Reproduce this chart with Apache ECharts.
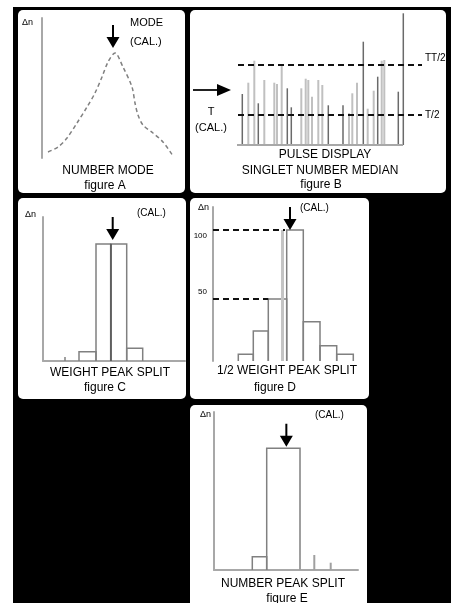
<!DOCTYPE html>
<html><head><meta charset="utf-8">
<script src="https://cdn.jsdelivr.net/npm/echarts@6/dist/echarts.min.js"></script>
<style>html,body{margin:0;padding:0;background:#fff}#c{width:454px;height:603px}</style>
</head><body><div id="c"></div>
<script>
// ---------- DATA ----------
// Figure A: number-mode distribution curve
const modeCurveX = [6, 16, 25, 35, 45, 53, 60, 66, 73, 81, 90, 93, 96, 101, 111, 121, 131];
const modeCurveY = [6, 11, 20, 35, 51, 65, 81, 96, 105, 91, 71, 55, 43, 33, 25, 16, 2];

// Figure B: pulse display (position, pulse height)
const pulseX = [5.3, 11.3, 17.3, 21.3, 27.3, 37.3, 40, 44.7, 50.3, 54.3, 64.3, 68.7, 71.3, 75, 81.3, 85.3, 91.3,
                106, 112, 115.3, 120, 126.3, 130.7, 136.7, 140.7, 144.7, 147.3, 161.3, 166.3];
const pulseH = [51, 62.3, 84.3, 41.7, 65, 62.3, 61, 80, 56.7, 37.7, 56.7, 66.3, 65, 48.3, 65, 60, 39.7,
                39.7, 31.7, 51.7, 62.3, 103.3, 36.3, 54.3, 68.3, 84.3, 85, 53.3, 131.7];
const pulseBaseEnd = 166;
const pulseLevels = [80, 30];
const pulseLevelLabels = ['TT/2', 'T/2'];
const pulseLevelSpan = [1, 185];

// Figure C: weight peak split histogram
const weightBinStart = [36, 53, 67.7, 83.7];
const weightBinEnd = [53, 67.7, 83.7, 99.7];
const weightBinH = [9.3, 117, 117, 12.7];
const weightTickX = [22];
const weightTickH = [4];
const weightSplitX = 67.7;

// Figure D: 1/2 weight peak split histogram
const halfBinStart = [25.3, 40.3, 55.3, 73.7, 90.3, 107, 123.7];
const halfBinEnd = [40.3, 55.3, 73.7, 90.3, 107, 123.7, 140.3];
const halfBinH = [6.7, 30, 62, 131, 39.3, 15.3, 6.7];
const halfLevels = [131, 62];
const halfLevelEnds = [72, 55.3];
const halfTickLabels = ['100', '50'];
const halfSplitX = 69.7;

// Figure E: number peak split histogram
const numBinStart = [38.3, 52.7];
const numBinEnd = [52.7, 86];
const numBinH = [13.3, 121.7];
const numTickX = [86, 100.3, 116.7];
const numTickH = [15, 15, 7.3];

// ---------- RENDERING ----------
const FONT = "'Liberation Sans', Arial, sans-serif";
const AXC = '#a8a8a8';
const chart = echarts.init(document.getElementById('c'), null, {renderer: 'canvas'});

const grids = [
  {left: 42, top: 18, width: 135, height: 140},
  {left: 237, top: 10, width: 190, height: 135},
  {left: 43, top: 217, width: 142, height: 144},
  {left: 213, top: 207, width: 150, height: 154},
  {left: 214, top: 412, width: 144, height: 158}
];
const showX = [false, false, true, false, true];
const showY = [true, false, true, true, true];
const xAxis = grids.map((g, i) => ({
  type: 'value', gridIndex: i, min: 0, max: g.width,
  axisLine: {show: showX[i], onZero: false, lineStyle: {color: AXC, width: 2}},
  axisTick: {show: false}, axisLabel: {show: false}, splitLine: {show: false}
}));
const yAxis = grids.map((g, i) => ({
  type: 'value', gridIndex: i, min: 0, max: g.height,
  axisLine: {show: showY[i], onZero: false, lineStyle: {color: AXC, width: 2}},
  axisTick: {show: false}, axisLabel: {show: false}, splitLine: {show: false}
}));

const arrowPath = 'path://M5.5,0 L7.5,0 L7.5,12 L13,12 L6.5,23 L0,12 L5.5,12 Z';
function arrowMark(coordOrType, offset) {
  const d = Object.assign({}, coordOrType);
  return {
    symbol: arrowPath, symbolSize: [13, 23], symbolOffset: offset,
    itemStyle: {color: '#000'}, label: {show: false}, silent: true,
    data: [d]
  };
}

function binSeries(gi, starts, ends, hs, extra) {
  return Object.assign({
    type: 'custom', xAxisIndex: gi, yAxisIndex: gi, clip: false,
    encode: {x: [0, 1], y: 2},
    data: starts.map((s, i) => [s, ends[i], hs[i]]),
    renderItem: function (params, api) {
      const x0 = api.value(0), x1 = api.value(1), h = api.value(2);
      return {
        type: 'polyline',
        shape: {points: [api.coord([x0, 0]), api.coord([x0, h]), api.coord([x1, h]), api.coord([x1, 0])]},
        style: {stroke: '#808080', lineWidth: 1.5, fill: null}
      };
    }
  }, extra || {});
}
function tickSeries(gi, xs, hs, color, width) {
  return {
    type: 'custom', xAxisIndex: gi, yAxisIndex: gi, clip: false,
    encode: {x: 0, y: 1},
    data: xs.map((x, i) => [x, hs[i]]),
    renderItem: function (params, api) {
      const a = api.coord([api.value(0), 0]), b = api.coord([api.value(0), api.value(1)]);
      return {type: 'line', shape: {x1: a[0], y1: a[1], x2: b[0], y2: b[1]}, style: {stroke: color, lineWidth: width}};
    }
  };
}
function splitLine(x, h, color, width) {
  return {
    symbol: 'none', silent: true, label: {show: false},
    lineStyle: {color: color, width: width, type: 'solid'},
    data: [[{coord: [x, 0]}, {coord: [x, h]}]]
  };
}

const darkPulse = new Set([0, 3, 8, 9, 16, 17, 21, 24, 27, 28]);
const series = [];

// A
series.push({
  type: 'line', xAxisIndex: 0, yAxisIndex: 0, symbol: 'none', smooth: 0.3,
  data: modeCurveX.map((x, i) => [x, modeCurveY[i]]),
  lineStyle: {color: '#808080', width: 1.5, type: [4, 3]},
  markPoint: arrowMark({type: 'max'}, [-2, -16.5])
});

// B
series.push({
  type: 'custom', xAxisIndex: 1, yAxisIndex: 1, clip: false, encode: {x: 0, y: 1},
  data: pulseX.map((x, i) => [x, pulseH[i]]),
  renderItem: function (params, api) {
    const a = api.coord([api.value(0), 0]), b = api.coord([api.value(0), api.value(1)]);
    const dark = darkPulse.has(params.dataIndex);
    return {type: 'line', shape: {x1: a[0], y1: a[1], x2: b[0], y2: b[1]},
      style: {stroke: dark ? '#6a6a6a' : '#c0c0c0', lineWidth: dark ? 1.5 : 2}};
  }
});
series.push({
  type: 'line', xAxisIndex: 1, yAxisIndex: 1, symbol: 'none',
  data: [[0, 0], [pulseBaseEnd, 0]], lineStyle: {color: AXC, width: 2}
});
pulseLevels.forEach(lv => series.push({
  type: 'line', xAxisIndex: 1, yAxisIndex: 1, symbol: 'none', z: 5,
  data: [[pulseLevelSpan[0], lv], [pulseLevelSpan[1], lv]],
  lineStyle: {color: '#111', width: 2, type: [6, 4]}
}));

// C
series.push(binSeries(2, weightBinStart, weightBinEnd, weightBinH, {
  markLine: splitLine(weightSplitX, weightBinH[1], '#555', 1.5),
  markPoint: arrowMark({coord: [weightSplitX, weightBinH[1]]}, [2, -15.5])
}));
series.push(tickSeries(2, weightTickX, weightTickH, '#808080', 1.5));

// D
series.push(binSeries(3, halfBinStart, halfBinEnd, halfBinH, {
  markLine: splitLine(halfSplitX, halfBinH[3], '#c4c4c4', 3),
  markPoint: arrowMark({coord: [(halfBinStart[3] + halfBinEnd[3]) / 2, halfBinH[3]]}, [-5, -11.5])
}));
halfLevels.forEach((lv, i) => series.push({
  type: 'line', xAxisIndex: 3, yAxisIndex: 3, symbol: 'none', z: 5,
  data: [[0, lv], [halfLevelEnds[i], lv]],
  lineStyle: {color: '#111', width: 2, type: [6, 4]}
}));

// E
series.push(binSeries(4, numBinStart, numBinEnd, numBinH, {
  markPoint: arrowMark({coord: [(numBinStart[1] + numBinEnd[1]) / 2, numBinH[1]]}, [3, -13])
}));
series.push(tickSeries(4, numTickX, numTickH, '#a0a0a0', 2));

chart.setOption({
  animation: false,
  backgroundColor: '#fff',
  grid: grids.map(g => Object.assign({containLabel: false}, g)),
  xAxis: xAxis, yAxis: yAxis, series: series
});

// ---------- FRAME, PANELS AND TEXT ----------
const els = [];
els.push({type: 'rect', z: -10, shape: {x: 13, y: 7, width: 438, height: 600}, style: {fill: '#000'}});
[[18, 10, 167, 183], [190, 10, 256, 183], [18, 198, 168, 201], [190, 198, 179, 201], [190, 405, 177, 205]]
  .forEach(p => els.push({type: 'rect', z: -9, shape: {x: p[0], y: p[1], width: p[2], height: p[3], r: 5}, style: {fill: '#fff'}}));

function txt(t, x, y, size, align) {
  els.push({type: 'text', z: 100, x: x, y: y, style: {
    text: t, font: size + 'px ' + FONT, fill: '#000',
    textAlign: align || 'center', textVerticalAlign: 'middle', align: align || 'center', verticalAlign: 'middle'
  }});
}
// A
txt('Δn', 22, 23, 9, 'left');
txt('MODE', 130, 23, 11, 'left');
txt('(CAL.)', 130, 42, 11, 'left');
txt('NUMBER MODE', 108, 171, 12);
txt('figure A', 105, 186, 12);
// B
txt('T', 211, 112, 11);
txt('(CAL.)', 211, 128, 11);
pulseLevels.forEach((lv, i) => {
  const p = chart.convertToPixel({gridIndex: 1}, [pulseLevelSpan[1], lv]);
  txt(pulseLevelLabels[i], p[0] + 3, p[1] - (i === 0 ? 7 : 0), 10, 'left');
});
els.push({type: 'line', z: 100, shape: {x1: 193, y1: 90, x2: 219, y2: 90}, style: {stroke: '#222', lineWidth: 2}});
els.push({type: 'polygon', z: 100, shape: {points: [[217, 84], [231, 90], [217, 96]]}, style: {fill: '#000'}});
txt('PULSE DISPLAY', 325, 155, 12);
txt('SINGLET NUMBER MEDIAN', 320, 171, 12);
txt('figure B', 321, 185, 12);
// C
txt('Δn', 25, 215, 9, 'left');
txt('(CAL.)', 137, 213, 10, 'left');
txt('WEIGHT PEAK SPLIT', 110, 373, 12);
txt('figure C', 105, 388, 12);
// D
txt('Δn', 198, 208, 9, 'left');
halfLevels.forEach((lv, i) => {
  const p = chart.convertToPixel({gridIndex: 3}, [0, lv]);
  txt(halfTickLabels[i], p[0] - 6, p[1] + (i === 0 ? 6 : -7), 8, 'right');
});
txt('(CAL.)', 300, 208, 10, 'left');
txt('1/2 WEIGHT PEAK SPLIT', 287, 371, 12);
txt('figure D', 275, 388, 12);
// E
txt('Δn', 200, 415, 9, 'left');
txt('(CAL.)', 315, 415, 10, 'left');
txt('NUMBER PEAK SPLIT', 283, 584, 12);
txt('figure E', 287, 599, 12);

chart.setOption({graphic: {elements: els}});
</script>
</body></html>
